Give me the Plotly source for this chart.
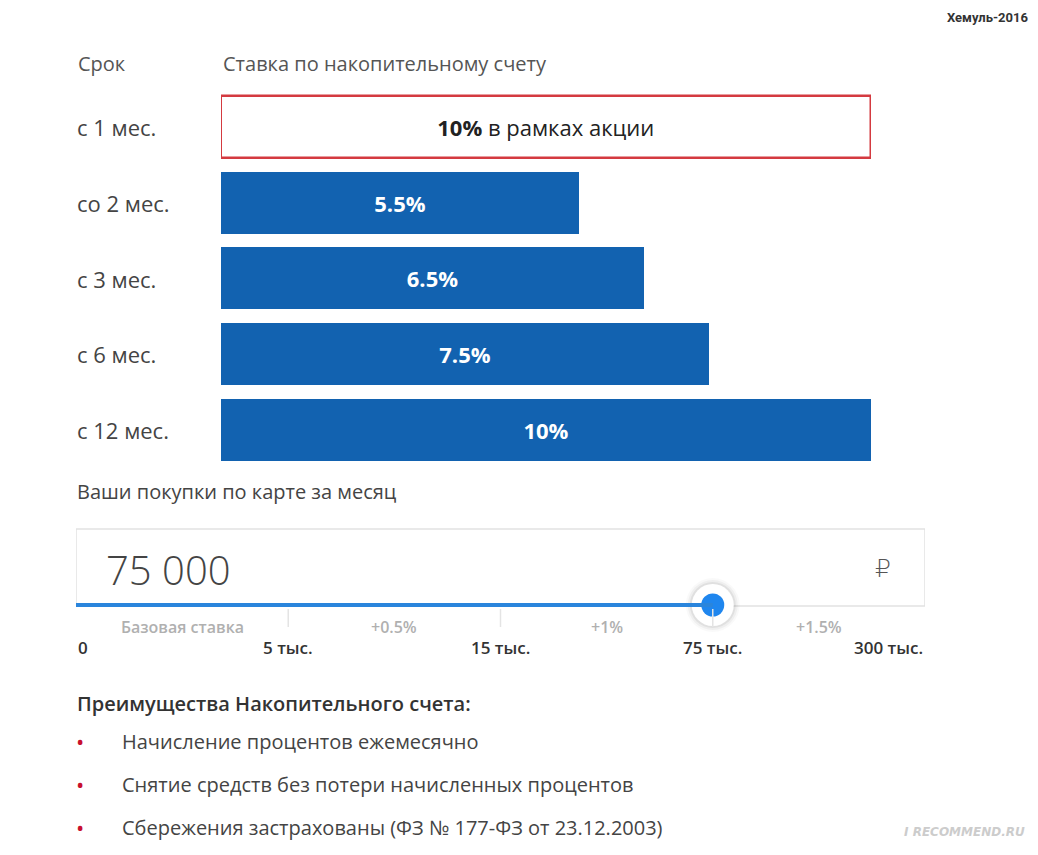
import plotly.graph_objects as go

# ---- data ----
terms = ["с 1 мес.", "со 2 мес.", "с 3 мес.", "с 6 мес.", "с 12 мес."]
rates = [10, 5.5, 6.5, 7.5, 10]
rate_labels = ["<b>10%</b> в рамках акции", "<b>5.5%</b>", "<b>6.5%</b>", "<b>7.5%</b>", "<b>10%</b>"]
promo = [True, False, False, False, False]

purchase_value = "75 000"
slider_ticks = ["0", "5 тыс.", "15 тыс.", "75 тыс.", "300 тыс."]
slider_bonus = ["Базовая ставка", "+0.5%", "+1%", "+1.5%"]
slider_index = 3

benefits_title = "Преимущества Накопительного счета:"
benefits = [
    "Начисление процентов ежемесячно",
    "Снятие средств без потери начисленных процентов",
    "Сбережения застрахованы (ФЗ № 177-ФЗ от 23.12.2003)",
]

OFF = 8  # page body margin
W, H = 1038 - 2 * OFF, 855 - 2 * OFF
FONT = "Open Sans"
BLUE = "#1262b0"
RED = "#d43a40"

def px_x(p):
    return (p - OFF) / W

def px_y(p):
    return 1 - (p - OFF) / H

fig = go.Figure()

fig.add_trace(go.Bar(
    y=terms, x=rates, orientation="h", width=0.82,
    marker=dict(color=["white" if p else BLUE for p in promo],
                line=dict(color=[RED if p else BLUE for p in promo],
                          width=[2.5 if p else 0 for p in promo])),
    text=rate_labels, textposition="inside", insidetextanchor="middle",
    textangle=0,
    insidetextfont=dict(family=FONT, size=22,
                        color=["#222222" if p else "white" for p in promo]),
    hoverinfo="skip", showlegend=False,
))

# slider knob
for sz, col in [(54, "rgba(0,0,0,0.025)"), (50, "rgba(0,0,0,0.04)"), (46, "rgba(0,0,0,0.06)")]:
    fig.add_trace(go.Scatter(x=[slider_index], y=[0], xaxis="x2", yaxis="y2", mode="markers",
                             marker=dict(size=sz, color=col, line=dict(width=0)),
                             hoverinfo="skip", showlegend=False))
fig.add_trace(go.Scatter(x=[slider_index], y=[0], xaxis="x2", yaxis="y2", mode="markers",
                         marker=dict(size=42, color="white", line=dict(width=0)),
                         hoverinfo="skip", showlegend=False))
fig.add_trace(go.Scatter(x=[slider_index], y=[0], xaxis="x2", yaxis="y2", mode="markers",
                         marker=dict(size=23, color="#1f86ee", line=dict(width=0)),
                         hoverinfo="skip", showlegend=False))

shapes = []
# input box
shapes.append(dict(type="rect", xref="x2", yref="paper", x0=0, x1=len(slider_ticks) - 1,
                   y0=px_y(606), y1=px_y(529), line=dict(color="#e2e2e2", width=1.5),
                   fillcolor="white", layer="below"))
# track
shapes.append(dict(type="line", xref="x2", yref="paper", x0=0, x1=slider_index,
                   y0=px_y(605), y1=px_y(605), line=dict(color="#2a85dc", width=4)))
# tick separators
for i in range(1, len(slider_ticks) - 1):
    shapes.append(dict(type="line", xref="x2", yref="paper", x0=i, x1=i,
                       y0=px_y(609), y1=px_y(627), line=dict(color="#e4e4e4", width=1.5)))

ann = []
# headers
ann.append(dict(text="Срок", xref="paper", yref="paper", x=px_x(76), y=px_y(63),
                xanchor="left", yanchor="middle", showarrow=False,
                font=dict(family=FONT, size=20, color="#555555")))
ann.append(dict(text="Ставка по накопительному счету", xref="paper", yref="paper",
                x=px_x(221), y=px_y(63), xanchor="left", yanchor="middle", showarrow=False,
                font=dict(family=FONT, size=20, color="#555555")))
# term labels
for i, t in enumerate(terms):
    ann.append(dict(text=t, xref="paper", yref="y", x=px_x(75), y=i,
                    xanchor="left", yanchor="middle", showarrow=False,
                    font=dict(family=FONT, size=22, color="#444444")))
# purchases
ann.append(dict(text="Ваши покупки по карте за месяц", xref="paper", yref="paper",
                x=px_x(75), y=px_y(491), xanchor="left", yanchor="middle", showarrow=False,
                font=dict(family=FONT, size=20, color="#444444")))
ann.append(dict(text=purchase_value, xref="paper", yref="paper",
                x=px_x(104), y=px_y(569), xanchor="left", yanchor="middle", showarrow=False,
                font=dict(family=FONT, size=40, color="#444444", weight=300)))
ann.append(dict(text="₽", xref="paper", yref="paper",
                x=px_x(883), y=px_y(568), xanchor="center", yanchor="middle", showarrow=False,
                font=dict(family="DejaVu Sans", size=25, color="#555555", weight=300)))
# bonus labels
for i, b in enumerate(slider_bonus):
    ann.append(dict(text=b, xref="x2", yref="paper", x=i + 0.5, y=px_y(627),
                    xanchor="center", yanchor="middle", showarrow=False,
                    font=dict(family=FONT, size=16, color="#b0b0b0", weight=600)))
# tick labels
n = len(slider_ticks)
for i, t in enumerate(slider_ticks):
    xa = "left" if i == 0 else ("right" if i == n - 1 else "center")
    ann.append(dict(text=t, xref="x2", yref="paper", x=i, y=px_y(647),
                    xanchor=xa, yanchor="middle", showarrow=False,
                    font=dict(family=FONT, size=17, color="#333333", weight=600)))
# benefits
ann.append(dict(text=benefits_title, xref="paper", yref="paper", x=px_x(75), y=px_y(703),
                xanchor="left", yanchor="middle", showarrow=False,
                font=dict(family=FONT, size=20, color="#333333", weight=600)))
for i, b in enumerate(benefits):
    yy = px_y(741 + i * 43)
    ann.append(dict(text="•", xref="paper", yref="paper", x=px_x(74), y=yy,
                    xanchor="left", yanchor="middle", showarrow=False,
                    font=dict(family=FONT, size=22, color="#c8102e")))
    ann.append(dict(text=b, xref="paper", yref="paper", x=px_x(120), y=yy,
                    xanchor="left", yanchor="middle", showarrow=False,
                    font=dict(family=FONT, size=20, color="#444444")))
# watermarks
ann.append(dict(text="<b>Хемуль-2016</b>", xref="paper", yref="paper", x=1, y=1,
                xanchor="right", yanchor="top", showarrow=False,
                font=dict(family="Roboto", size=13, color="#333333")))
ann.append(dict(text="<b><i>I RECOMMEND.RU</i></b>", xref="paper", yref="paper",
                x=px_x(1027), y=px_y(832), xanchor="right", yanchor="middle", showarrow=False,
                font=dict(family="DejaVu Sans", size=12, color="#cccccc")))

fig.update_layout(
    width=W, height=H, margin=dict(l=0, r=0, t=0, b=0),
    paper_bgcolor="white", plot_bgcolor="white",
    xaxis=dict(domain=[px_x(221), px_x(871)], range=[0, 10], visible=False, fixedrange=True),
    yaxis=dict(domain=[px_y(467.9), px_y(89.1)], type="category", range=[4.5, -0.5],
               visible=False, fixedrange=True),
    xaxis2=dict(domain=[px_x(76), px_x(925)], range=[0, len(slider_ticks) - 1], anchor="y2",
                visible=False, fixedrange=True),
    yaxis2=dict(domain=[px_y(635), px_y(575)], range=[-1, 1], anchor="x2",
                visible=False, fixedrange=True),
    shapes=shapes, annotations=ann, bargap=0,
    uniformtext=dict(mode=False),
)

fig.write_html("out.html")
